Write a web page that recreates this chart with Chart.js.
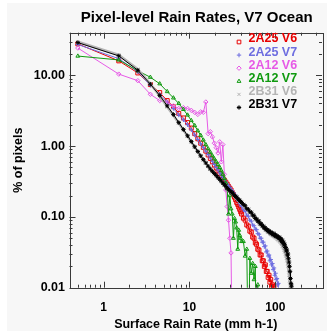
<!DOCTYPE html>
<html>
<head>
<meta charset="utf-8">
<script src="https://cdn.jsdelivr.net/npm/chart.js@4.4.1/dist/chart.umd.min.js"></script>
<style>
  html, body { margin: 0; padding: 0; background: #ffffff; }
  canvas { display: block; }
</style>
</head>
<body>
<canvas id="myChart" width="327" height="335"></canvas>
<script>
// bin centres (mm/h)
const rainRate = [0.5, 1.5, 2.5, 3.5, 4.5, 5.5, 6.5, 7.5, 8.5, 9.5, 10.5,
  11.5, 12.5, 13.5, 14.5, 15.5, 16.5, 17.5, 18.5, 19.5, 20.5,
  21.5, 22.5, 23.5, 24.5, 25.5, 26.5, 27.5, 28.5, 29.5, 30.5,
  31.5, 32.5, 33.5, 34.5, 35.5, 36.5, 37.5, 38.5, 39.5, 40.5,
  42.5, 44.5, 46.5, 48.5, 50.5, 52.5, 54.5, 56.5, 58.5, 60.5,
  62.5, 64.5, 66.5, 68.5, 70.5, 72.5, 74.5, 76.5, 78.5, 80.5,
  82.5, 84.5, 86.5, 88.5, 90.5, 92.5, 94.5, 96.5, 98.5, 100.5,
  102.5, 104.5, 106.5, 108.5, 110.5, 112.5, 114.5, 116.5, 118.5, 120.5,
  122.5, 124.5, 126.5, 128.5, 130.5, 132.5, 134.5, 136.5, 138.5, 140.5,
  142.5, 144.5, 146.5, 148.5, 150.5, 152.5, 154.5, 156.5, 158.5, 160.5];

// % of pixels, 0.001 = empty bin (falls off the bottom)
const pr2A25v6 = [27.8, 16.0, 10.8, 7.4, 5.7, 4.4, 3.6, 2.9, 2.5, 2.15, 1.8,
  1.5, 1.27, 1.1, 0.96, 0.85, 0.75, 0.67, 0.6, 0.54, 0.49,
  0.45, 0.41, 0.38, 0.35, 0.33, 0.31, 0.29, 0.27, 0.255, 0.24,
  0.22, 0.205, 0.19, 0.175, 0.16, 0.15, 0.138, 0.128, 0.118, 0.11,
  0.096, 0.09, 0.077, 0.074, 0.063, 0.061, 0.052, 0.05, 0.043, 0.041,
  0.035, 0.034, 0.029, 0.029, 0.024, 0.024, 0.02, 0.021, 0.017, 0.017,
  0.014, 0.015, 0.012, 0.013, 0.0105, 0.011, 0.001, 0.0105, 0.001];

const pr2A25v7 = [27.3, 17.2, 11.2, 7.2, 5.4, 4.2, 3.4, 2.75, 2.35, 2.0, 1.7,
  1.44, 1.24, 1.08, 0.95, 0.85, 0.76, 0.68, 0.61, 0.55, 0.5,
  0.46, 0.42, 0.39, 0.36, 0.335, 0.31, 0.29, 0.275, 0.26, 0.245,
  0.232, 0.22, 0.208, 0.196, 0.185, 0.175, 0.165, 0.156, 0.148, 0.14,
  0.126, 0.12, 0.106, 0.102, 0.09, 0.087, 0.077, 0.075, 0.067, 0.066,
  0.058, 0.057, 0.05, 0.05, 0.044, 0.044, 0.038, 0.039, 0.032, 0.033,
  0.028, 0.029, 0.024, 0.025, 0.021, 0.022, 0.018, 0.019, 0.015, 0.016,
  0.013, 0.0135, 0.011, 0.0115, 0.001];

const tmi2A12v6 = [24.3, 10.4, 8.4, 5.4, 4.4, 4.1, 3.7, 3.4, 3.5, 3.4, 3.2,
  3.0, 2.8, 3.05, 3.0, 4.2, 1.5, 1.6, 1.35, 1.1, 0.95,
  0.8, 1.15, 0.6, 1.05, 0.4, 0.24, 0.14, 0.09, 0.05, 0.031,
  0.001];

const tmi2A12v7 = [18.7, 16.5, 11.6, 9.4, 7.6, 5.9, 4.8, 4.0, 3.3, 2.75, 2.3,
  1.95, 1.65, 1.42, 1.22, 1.05, 0.92, 0.82, 0.73, 0.66, 0.6,
  0.55, 0.5, 0.45, 0.4, 0.35, 0.3, 0.25, 0.11, 0.2, 0.13,
  0.11, 0.05, 0.095, 0.085, 0.07, 0.035, 0.065, 0.055, 0.05, 0.045,
  0.045, 0.028, 0.035, 0.001, 0.026, 0.016, 0.022, 0.013, 0.02, 0.001,
  0.011, 0.001];

const com2B31v6 = [29.8, 19.5, 12.2, 7.6, 5.1, 3.6, 2.7, 2.1, 1.68, 1.37, 1.14,
  0.96, 0.83, 0.72, 0.64, 0.575, 0.52, 0.47, 0.435, 0.405, 0.38,
  0.355, 0.335, 0.315, 0.297, 0.28, 0.266, 0.252, 0.24, 0.23, 0.22,
  0.212, 0.205, 0.196, 0.19, 0.183, 0.177, 0.171, 0.165, 0.16, 0.155,
  0.146, 0.137, 0.13, 0.122, 0.116, 0.11, 0.104, 0.099, 0.095, 0.09,
  0.086, 0.083, 0.079, 0.077, 0.073, 0.071, 0.069, 0.066, 0.065, 0.063,
  0.061, 0.06, 0.058, 0.057, 0.056, 0.055, 0.054, 0.053, 0.052, 0.051,
  0.05, 0.049, 0.048, 0.047, 0.046, 0.045, 0.044, 0.042, 0.041, 0.039,
  0.038, 0.036, 0.034, 0.032, 0.03, 0.028, 0.026, 0.024, 0.022, 0.02,
  0.018, 0.015, 0.0125, 0.0105, 0.001];

const com2B31v7 = [29.0, 18.8, 11.8, 7.5, 5.2, 3.7, 2.8, 2.15, 1.72, 1.4, 1.16,
  0.98, 0.84, 0.73, 0.645, 0.58, 0.52, 0.475, 0.44, 0.41, 0.385,
  0.36, 0.34, 0.32, 0.30, 0.285, 0.27, 0.255, 0.245, 0.235, 0.225,
  0.22, 0.21, 0.20, 0.195, 0.19, 0.18, 0.175, 0.17, 0.165, 0.16,
  0.15, 0.144, 0.131, 0.128, 0.118, 0.116, 0.106, 0.104, 0.095, 0.094,
  0.087, 0.087, 0.08, 0.08, 0.075, 0.074, 0.069, 0.07, 0.066, 0.066,
  0.062, 0.064, 0.06, 0.061, 0.058, 0.059, 0.056, 0.058, 0.054, 0.056,
  0.053, 0.054, 0.052, 0.052, 0.05, 0.051, 0.048, 0.049, 0.045, 0.047,
  0.043, 0.044, 0.04, 0.041, 0.037, 0.037, 0.033, 0.034, 0.029, 0.03,
  0.026, 0.023, 0.02, 0.017, 0.0135, 0.0115, 0.0105, 0.001];

const seriesNames = ['2A25 V6', '2A25 V7', '2A12 V6', '2A12 V7', '2B31 V6', '2B31 V7'];
const seriesValues = [pr2A25v6, pr2A25v7, tmi2A12v6, tmi2A12v7, com2B31v6, com2B31v7];
const seriesColors = ['#e80000', '#6e6ee0', '#e65ae6', '#109a10', '#b4b4b4', '#000000'];
const seriesMarkers = ['rect', 'cross', 'rectRot', 'triangle', 'crossRot', 'star'];

const xTickValues = [1, 10, 100];
const xTickLabels = ['1', '10', '100'];
const yTickValues = [0.01, 0.1, 1, 10];
const yTickLabels = ['0.01', '0.10', '1.00', '10.00'];

const FONT = '"Liberation Sans", Arial, Helvetica, sans-serif';

function makeDataset(i) {
  const pts = seriesValues[i].map((v, k) => ({ x: rainRate[k], y: v }));
  return {
    label: seriesNames[i],
    data: pts,
    borderColor: seriesColors[i],
    backgroundColor: 'rgba(0,0,0,0)',
    pointBorderColor: seriesColors[i],
    pointBackgroundColor: 'rgba(0,0,0,0)',
    pointStyle: seriesMarkers[i],
    pointRadius: i == 0 ? 2.8 : 2.2,
    pointBorderWidth: 1,
    borderWidth: i == 4 ? 2.5 : 1,
    order: 5 - i,
    tension: 0
  };
}

function decadeTicks(min, max) {
  const out = [];
  for (let e = -3; e <= 3; e++) {
    for (let m = 1; m <= 9; m++) {
      const v = m * Math.pow(10, e);
      if (v >= min * 0.999 && v <= max * 1.001) out.push({ v: v, major: m == 1 });
    }
  }
  return out;
}

const idlFrame = {
  id: 'idlFrame',
  beforeDraw(chart) {
    const ctx = chart.ctx;
    ctx.save();
    ctx.fillStyle = '#ffffff';
    ctx.fillRect(0, 0, chart.width, chart.height);
    ctx.fillStyle = '#f7f7f7';
    ctx.fillRect(7, 3, chart.width - 7, 328);
    ctx.restore();
  },
  afterDraw(chart) {
    const ctx = chart.ctx;
    const a = chart.chartArea;
    const xs = chart.scales.x;
    const ys = chart.scales.y;
    ctx.save();
    ctx.strokeStyle = '#3a3a3a';
    ctx.lineWidth = 1;
    ctx.strokeRect(Math.round(a.left) + 0.5, Math.round(a.top) + 0.5,
      Math.round(a.right - a.left), Math.round(a.bottom - a.top));
    ctx.beginPath();
    decadeTicks(xs.min, xs.max).forEach(t => {
      const px = Math.round(xs.getPixelForValue(t.v)) + 0.5;
      const len = t.major ? 6 : 3;
      ctx.moveTo(px, a.bottom); ctx.lineTo(px, a.bottom - len);
      ctx.moveTo(px, a.top); ctx.lineTo(px, a.top + len);
    });
    decadeTicks(ys.min, ys.max).forEach(t => {
      const py = Math.round(ys.getPixelForValue(t.v)) + 0.5;
      const len = t.major ? 6 : 3;
      ctx.moveTo(a.left, py); ctx.lineTo(a.left + len, py);
      ctx.moveTo(a.right, py); ctx.lineTo(a.right - len, py);
    });
    ctx.stroke();

    // title
    ctx.fillStyle = '#000000';
    ctx.font = 'bold 15px ' + FONT;
    ctx.textAlign = 'center';
    ctx.textBaseline = 'middle';
    ctx.fillText('Pixel-level Rain Rates, V7 Ocean', (a.left + a.right) / 2 + 1, 17.5);

    // legend inside the plot
    ctx.font = 'bold 12.5px ' + FONT;
    ctx.textAlign = 'left';
    for (let i = 0; i < seriesNames.length; i++) {
      const rowY = 39 + i * 13.1;
      ctx.fillStyle = seriesColors[i];
      ctx.fillText(seriesNames[i], 248.5, rowY);
      ctx.strokeStyle = seriesColors[i];
      ctx.fillStyle = 'rgba(0,0,0,0)';
      ctx.lineWidth = 1;
      Chart.helpers.drawPoint(ctx, {
        pointStyle: seriesMarkers[i], radius: i == 0 ? 2.6 : 2.2, rotation: 0, borderWidth: 1
      }, 239, rowY + 3);
    }
    ctx.restore();
  }
};

const ctx = document.getElementById('myChart');
const myChart = new Chart(ctx, {
  type: 'line',
  data: { datasets: seriesNames.map((n, i) => makeDataset(i)) },
  options: {
    responsive: false,
    devicePixelRatio: 1,
    animation: false,
    layout: { padding: { top: 32.7, right: 2.5, left: 0, bottom: 0 } },
    plugins: { legend: { display: false }, tooltip: { enabled: false }, title: { display: false } },
    scales: {
      x: {
        type: 'logarithmic',
        min: 0.4,
        max: 350,
        grid: { display: false, drawTicks: false },
        border: { display: false },
        afterBuildTicks: s => { s.ticks = xTickValues.map(v => ({ value: v })); },
        afterFit: s => { s.height = 47.3; },
        ticks: {
          autoSkip: false, maxRotation: 0, padding: 12.5, color: '#000',
          font: { family: FONT, size: 12, weight: 'bold' },
          callback: v => xTickLabels[xTickValues.indexOf(v)]
        },
        title: {
          display: true, text: 'Surface Rain Rate (mm h-1)', color: '#000',
          font: { family: FONT, size: 12.5, weight: 'bold' },
          padding: { top: 0, bottom: 2.5 }
        }
      },
      y: {
        type: 'logarithmic',
        min: 0.01,
        max: 40,
        grid: { display: false, drawTicks: false },
        border: { display: false },
        afterBuildTicks: s => { s.ticks = yTickValues.map(v => ({ value: v })); },
        afterFit: s => { s.width = 69.5; },
        ticks: {
          autoSkip: false, padding: 4.5, color: '#000',
          font: { family: FONT, size: 12.5, weight: 'bold' },
          callback: v => yTickLabels[yTickValues.indexOf(v)]
        },
        title: {
          display: true, text: '% of pixels', color: '#000',
          font: { family: FONT, size: 12.5, weight: 'bold' },
          padding: { top: 11.5, bottom: 0 }
        }
      }
    }
  },
  plugins: [idlFrame]
});
</script>
</body>
</html>
